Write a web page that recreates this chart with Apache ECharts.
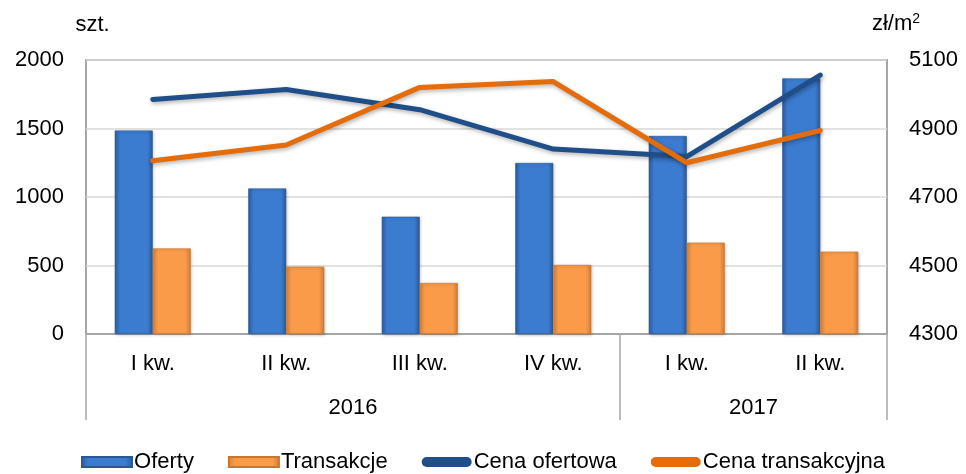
<!DOCTYPE html>
<html>
<head>
<meta charset="utf-8">
<script src="https://cdn.jsdelivr.net/npm/echarts@6/dist/echarts.min.js"></script>
<style>
  html, body { margin: 0; padding: 0; background: #fff; }
  #chart { width: 966px; height: 474px; }
</style>
</head>
<body>
<div id="chart"></div>
<script>
// Quarterly categories and the year groups they belong to
const quarters = ['I kw.', 'II kw.', 'III kw.', 'IV kw.', 'I kw.', 'II kw.'];
const years = ['2016', '2017'];
const yearSpans = [4, 2];

// Counts (szt.)
const oferty = [1485, 1062, 856, 1248, 1445, 1866];
const transakcje = [625, 491, 372, 504, 667, 601];

// Prices (zł/m2)
const cenaOfertowa = [4985, 5014, 4955, 4840, 4818, 5056];
const cenaTransakcyjna = [4806, 4852, 5020, 5037, 4800, 4894];

// Axis ticks
const leftTicks = { min: 0, max: 2000, step: 500 };
const rightTicks = { min: 4300, max: 5100, step: 200 };

// Year group boundaries and label positions on the group axis
const yearBounds = [0];
yearSpans.forEach(s => yearBounds.push(yearBounds[yearBounds.length - 1] + s));
const yearMids = yearSpans.map((s, i) => yearBounds[i] + s / 2);

const FONT = 'Liberation Sans, Arial, sans-serif';
const GRID_LINE = '#a6a6a6';
const plainNumber = v => String(v);

function barGradient(edge, mid, edge2) {
  return new echarts.graphic.LinearGradient(0, 0, 1, 0, [
    { offset: 0, color: edge },
    { offset: 0.14, color: mid },
    { offset: 0.86, color: mid },
    { offset: 1, color: edge2 }
  ]);
}

const blueFill = barGradient('#2c5f9f', '#3b7bd0', '#2a5a98');
const orangeFill = barGradient('#d8823a', '#f99b48', '#d27c36');
const capsule = 'path://M5,0 L45,0 A5,5 0 0 1 45,10 L5,10 A5,5 0 0 1 5,0 Z';

const chart = echarts.init(document.getElementById('chart'));
chart.setOption({
  animation: false,
  backgroundColor: '#ffffff',
  textStyle: { fontFamily: FONT, color: '#000' },
  grid: {
    left: 86, right: 79, top: 60, bottom: 140,
    show: true, borderColor: GRID_LINE, borderWidth: 2
  },
  legend: {
    top: 446,
    left: 'center',
    itemWidth: 50,
    itemHeight: 10,
    itemGap: 34,
    textStyle: { fontSize: 22, color: '#000', fontFamily: FONT, padding: [0, 0, 0, -3] },
    data: [
      { name: 'Oferty', icon: 'rect' },
      { name: 'Transakcje', icon: 'rect' },
      { name: 'Cena ofertowa', icon: capsule },
      { name: 'Cena transakcyjna', icon: capsule }
    ]
  },
  xAxis: [
    {
      type: 'category',
      data: quarters,
      position: 'bottom',
      boundaryGap: true,
      axisLine: { show: true, lineStyle: { color: GRID_LINE, width: 2 } },
      axisTick: { show: false },
      axisLabel: { fontSize: 22, color: '#000', margin: 19, fontFamily: FONT },
      splitLine: { show: false }
    },
    {
      // Year grouping row beneath the quarters
      type: 'value',
      min: 0,
      max: yearBounds[yearBounds.length - 1],
      position: 'bottom',
      axisLine: { show: false },
      splitLine: { show: false },
      axisTick: {
        show: true,
        customValues: yearBounds,
        length: 86,
        lineStyle: { color: GRID_LINE, width: 1.5 }
      },
      axisLabel: {
        customValues: yearMids,
        margin: 63,
        fontSize: 22,
        color: '#000',
        fontFamily: FONT,
        formatter: v => years[yearMids.indexOf(v)]
      }
    }
  ],
  yAxis: [
    {
      type: 'value',
      min: leftTicks.min, max: leftTicks.max, interval: leftTicks.step,
      name: 'szt.',
      nameLocation: 'end',
      nameGap: 24,
      nameTextStyle: { fontSize: 22, color: '#000', fontFamily: FONT, align: 'center', padding: [0, 0, 0, 13] },
      axisLine: { show: false },
      axisTick: { show: false },
      axisLabel: { fontSize: 22, color: '#000', margin: 22, fontFamily: FONT, formatter: plainNumber },
      splitLine: { show: true, lineStyle: { color: '#d9d9d9', width: 1.5 } }
    },
    {
      type: 'value',
      min: rightTicks.min, max: rightTicks.max, interval: rightTicks.step,
      name: 'zł/m{sup|2}',
      nameLocation: 'end',
      nameGap: 24,
      nameTextStyle: {
        fontSize: 22, color: '#000', fontFamily: FONT, align: 'center', padding: [0, 0, 0, 18],
        rich: { sup: { fontSize: 14, verticalAlign: 'top', padding: [0, 0, 10, 0], color: '#000', fontFamily: FONT } }
      },
      axisLine: { show: false },
      axisTick: { show: false },
      axisLabel: { fontSize: 22, color: '#000', margin: 22, fontFamily: FONT, formatter: plainNumber },
      splitLine: { show: false }
    }
  ],
  series: [
    {
      name: 'Oferty',
      type: 'bar',
      xAxisIndex: 0,
      yAxisIndex: 0,
      data: oferty,
      barWidth: 38,
      barGap: '0%',
      itemStyle: {
        color: blueFill,
        borderColor: '#2a5894',
        borderWidth: 0.6,
        shadowColor: 'rgba(0,0,0,0.25)',
        shadowBlur: 3,
        shadowOffsetX: 1,
        shadowOffsetY: 1
      },
      z: 2
    },
    {
      name: 'Transakcje',
      type: 'bar',
      xAxisIndex: 0,
      yAxisIndex: 0,
      data: transakcje,
      barWidth: 38,
      barGap: '0%',
      itemStyle: {
        color: orangeFill,
        borderColor: '#c7772f',
        borderWidth: 0.6,
        shadowColor: 'rgba(0,0,0,0.25)',
        shadowBlur: 3,
        shadowOffsetX: 1,
        shadowOffsetY: 1
      },
      z: 2
    },
    {
      name: 'Cena ofertowa',
      type: 'line',
      xAxisIndex: 0,
      yAxisIndex: 1,
      data: cenaOfertowa,
      symbol: 'none',
      color: '#1f4e89',
      lineStyle: {
        color: '#1f4e89', width: 5, cap: 'round', join: 'round',
        shadowColor: 'rgba(0,0,0,0.3)', shadowBlur: 4, shadowOffsetX: 1, shadowOffsetY: 2
      },
      z: 3
    },
    {
      name: 'Cena transakcyjna',
      type: 'line',
      xAxisIndex: 0,
      yAxisIndex: 1,
      data: cenaTransakcyjna,
      symbol: 'none',
      color: '#e46c0a',
      lineStyle: {
        color: '#e46c0a', width: 5, cap: 'round', join: 'round',
        shadowColor: 'rgba(0,0,0,0.3)', shadowBlur: 4, shadowOffsetX: 1, shadowOffsetY: 2
      },
      z: 4
    }
  ]
});
</script>
</body>
</html>
